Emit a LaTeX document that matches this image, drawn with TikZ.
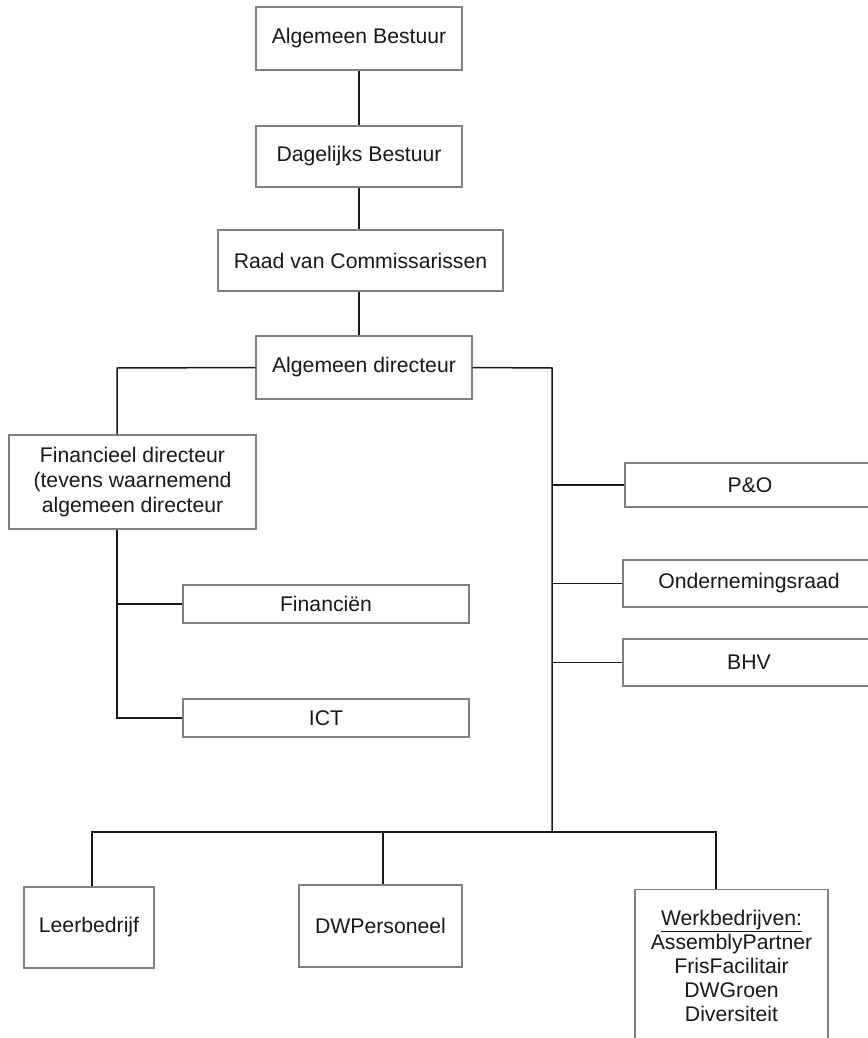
\documentclass[tikz,border=0pt]{standalone}
\usepackage{fontspec}
\setmainfont{Liberation Sans}
\begin{document}
\begin{tikzpicture}[x=1pt,y=-1pt,
  box/.style={draw=black!50, line width=1.4pt, fill=white, inner sep=0pt,
    font=\fontsize{21.2}{25}\selectfont, text=black!90, align=center},
  conn/.style={line width=1.5pt, draw=black!90}]
\useasboundingbox (0,0) rectangle (867,1038);

% boxes
\node[box, minimum width=206, minimum height=63] (AB) at (359,38.5) {Algemeen Bestuur};
\node[box, minimum width=206, minimum height=61] (DB) at (359,156.5) {Dagelijks Bestuur};
\node[box, minimum width=285, minimum height=61] (RvC) at (360.5,260.5) {Raad van Commissarissen};
\node[box, minimum width=216, minimum height=63] (AD) at (364,367.5) {Algemeen directeur};
\node[box, minimum width=247, minimum height=94] (FD) at (132.5,482) {Financieel directeur\\(tevens waarnemend\\algemeen directeur};
\node[box, minimum width=286, minimum height=38] (Fin) at (326,604) {Financiën};
\node[box, minimum width=286, minimum height=38] (ICT) at (326,718) {ICT};
\node[box, minimum width=250, minimum height=44] (PO) at (750,485) {P\&O};
\node[box, minimum width=252, minimum height=47] (OR) at (749,583.5) {Ondernemingsraad};
\node[box, minimum width=252, minimum height=47] (BHV) at (749,662.5) {BHV};
\node[box, minimum width=130, minimum height=81] (Leer) at (89,927.5) {Leerbedrijf};
\node[box, minimum width=163, minimum height=82] (DWP) at (380.5,926) {DWPersoneel};
\node[box, anchor=north, minimum width=193, inner ysep=20pt,
  font=\fontsize{21.2}{24}\selectfont] (Werk) at (731.5,889)
  {\underline{Werkbedrijven:}\\AssemblyPartner\\FrisFacilitair\\DWGroen\\Diversiteit};

% junction coordinates
\coordinate (L) at (117,368);
\coordinate (R) at (552,368);
\coordinate (bus) at (552,832);
\coordinate (bl) at (92,832);
\coordinate (bm) at (383,832);
\coordinate (br) at (716,832);

% connectors
\draw[conn] (AB.south -| DB.north) -- (DB.north);
\draw[conn] (DB.south) -- (DB.south |- RvC.north);
\draw[conn] (DB.south |- RvC.south) -- (DB.south |- AD.north);
\draw[conn] (AD.west) -- (L) -- (L |- FD.north);
\draw[conn] (L |- FD.south) -- (L |- ICT.west) -- (ICT.west);
\draw[conn] (L |- Fin.west) -- (Fin.west);
\draw[conn] (AD.east) -- (R) -- (bus);
\draw[conn] (R |- PO.west) -- (PO.west);
\draw[conn] (R |- OR.west) -- (OR.west);
\draw[conn] (R |- BHV.west) -- (BHV.west);
\draw[conn] (bl |- Leer.north) -- (bl) -- (br) -- (br |- Werk.north);
\draw[conn] (bm) -- (bm |- DWP.north);
\end{tikzpicture}
\end{document}
